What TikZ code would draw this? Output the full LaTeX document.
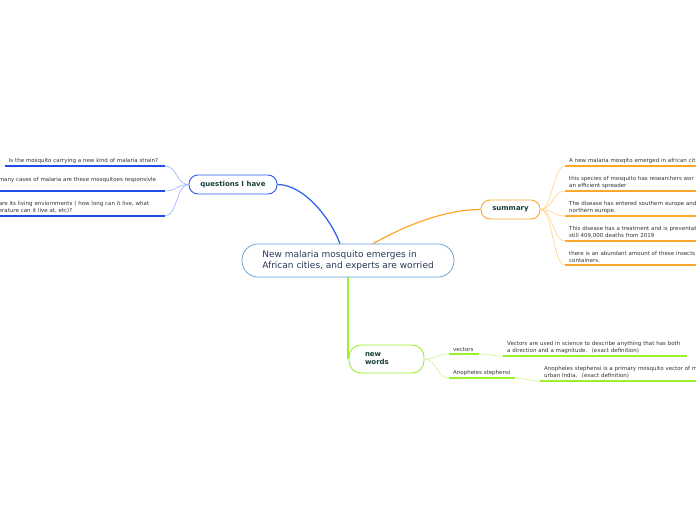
\documentclass[tikz,border=0pt]{standalone}
\usepackage{fontspec}
\setmainfont{DejaVu Sans}
\usepackage{xcolor}
\usepackage{tikz}
\usetikzlibrary{calc}
\definecolor{qblue}{HTML}{2A5CF0}
\definecolor{qdeep}{HTML}{1E4FE0}
\definecolor{qpale}{HTML}{92B2FF}
\definecolor{sorange}{HTML}{FFA62B}
\definecolor{spale}{HTML}{FFD08A}
\definecolor{wgreen}{HTML}{9AEF2E}
\definecolor{wpale}{HTML}{C8F592}
\definecolor{mainedge}{HTML}{5B9BD5}
\definecolor{maintext}{HTML}{283A58}
\definecolor{branchtext}{HTML}{17403A}
\definecolor{leaftext}{HTML}{333333}
\newcommand{\leafsize}{\fontsize{5.5}{6.8}\selectfont}

\begin{document}
\begin{tikzpicture}[x=1pt, y=-1pt,
  topic/.style={rectangle, draw=#1, line width=0.9pt, rounded corners=9pt, fill=white,
    minimum height=19pt, inner sep=0pt, font=\fontsize{7}{8}\selectfont\bfseries, text=branchtext},
  leaf/.style={inner xsep=4pt, inner ysep=2.4pt, text width=#1, align=left,
    font=\leafsize, text=leaftext},
  under/.style={draw=#1, line width=1.4pt},
  twig/.style={draw=#1, line width=0.6pt},
  limb/.style={draw=#1, line width=1.2pt},
]
  \useasboundingbox (0,0) rectangle (696,520);
  \clip (0,0) rectangle (696,520);

  % central topic
  \node[rectangle, draw=mainedge, line width=0.7pt, rounded corners=16pt, minimum width=212pt,
    minimum height=33pt, align=left, font=\fontsize{9}{11.5}\selectfont, text=maintext]
    (main) at (348,260.5) {New malaria mosquito emerges in\\African cities, and experts are worried};

  % main branches
  \node[topic=qblue, minimum width=88pt] (qs) at (233,184.5) {questions I have};
  \node[topic=sorange, minimum width=59pt] (sm) at (510.5,209.5) {summary};
  \node[topic=wgreen, minimum height=28pt, text width=43pt, inner xsep=16pt, align=left,
    rounded corners=12pt] (nw) at (386.5,359) {new\\words};

  \draw[limb=qblue] (qs.east) .. controls +(28,0) and +(-8,-22) .. ($(main.north)+(-8,0)$);
  \draw[limb=sorange] (sm.west) .. controls +(-40,0) and +(25,-14) .. ($(main.north)+(25,0)$);
  \draw[limb=wgreen] (main.south) -- (main.south |- nw.west);

  % questions
  \node[leaf=152pt, anchor=south east] (q1) at (165,166) {Is the mosquito carrying a new kind of malaria strain?};
  \node[leaf=162pt, anchor=south east] (q2) at (165,191) {many cases of malaria are these mosquitoes responsivle\\\mbox{}};
  \node[leaf=162pt, anchor=south east] (q3) at (165,216) {are its living enviornments ( how long can it live, what\\erature can it live at, etc)?};
  \draw[under=qdeep] (q1.south west) -- (q1.south east);
  \draw[under=qdeep] (q2.south west) -- (q2.south east);
  \draw[under=qdeep] (q3.south west) -- (q3.south east);
  \draw[twig=qpale] (qs.west) .. controls +(-12,0) and +(12,0) .. (q1.south east);
  \draw[twig=qpale] (qs.west) .. controls +(-12,0) and +(12,0) .. (q2.south east);
  \draw[twig=qpale] (qs.west) .. controls +(-12,0) and +(12,0) .. (q3.south east);

  % summary
  \node[leaf=200pt, anchor=south west] (s1) at (565,166) {A new malaria mosqito emerged in african cit};
  \node[leaf=200pt, anchor=south west] (s2) at (565,191) {this species of mosquito has researchers wor\\an efficient spreader};
  \node[leaf=200pt, anchor=south west] (s3) at (565,216) {The disease has entered southern europe and\\northern europe.};
  \node[leaf=200pt, anchor=south west] (s4) at (565,241) {This disease has a treatment and is preventab\\still 409,000 deaths from 2019};
  \node[leaf=200pt, anchor=south west] (s5) at (565,265) {there is an abundant amount of these insects\\containers.};
  \draw[under=sorange] (s1.south west) -- (s1.south east);
  \draw[under=sorange] (s2.south west) -- (s2.south east);
  \draw[under=sorange] (s3.south west) -- (s3.south east);
  \draw[under=sorange] (s4.south west) -- (s4.south east);
  \draw[under=sorange] (s5.south west) -- (s5.south east);
  \draw[twig=spale] (sm.east) .. controls +(12,0) and +(-12,0) .. (s1.south west);
  \draw[twig=spale] (sm.east) .. controls +(12,0) and +(-12,0) .. (s2.south west);
  \draw[twig=spale] (sm.east) .. controls +(12,0) and +(-12,0) .. (s3.south west);
  \draw[twig=spale] (sm.east) .. controls +(12,0) and +(-12,0) .. (s4.south west);
  \draw[twig=spale] (sm.east) .. controls +(12,0) and +(-12,0) .. (s5.south west);

  % new words
  \node[leaf=22pt, anchor=south west] (v1) at (449,354) {vectors};
  \node[leaf=58pt, anchor=south west] (a1) at (449,378) {Anopheles stephensi};
  \node[leaf=176pt, anchor=south west] (d1) at (503,356) {Vectors are used in science to describe anything that has both\\a direction and a magnitude.~ (exact definition)};
  \node[leaf=200pt, anchor=south west] (d2) at (540,381) {Anopheles stephensi is a primary mosquito vector of m\\urban India.~ (exact definition)};
  \draw[under=wgreen] (v1.south west) -- (v1.south east);
  \draw[under=wgreen] (a1.south west) -- (a1.south east);
  \draw[under=wgreen] (d1.south west) -- (d1.south east);
  \draw[under=wgreen] (d2.south west) -- (d2.south east);
  \draw[twig=wpale] (nw.east) .. controls +(12,0) and +(-12,0) .. (v1.south west);
  \draw[twig=wpale] (nw.east) .. controls +(12,0) and +(-12,0) .. (a1.south west);
  \draw[twig=wpale] (v1.south east) .. controls +(12,0) and +(-12,0) .. (d1.south west);
  \draw[twig=wpale] (a1.south east) .. controls +(12,0) and +(-12,0) .. (d2.south west);
\end{tikzpicture}
\end{document}
